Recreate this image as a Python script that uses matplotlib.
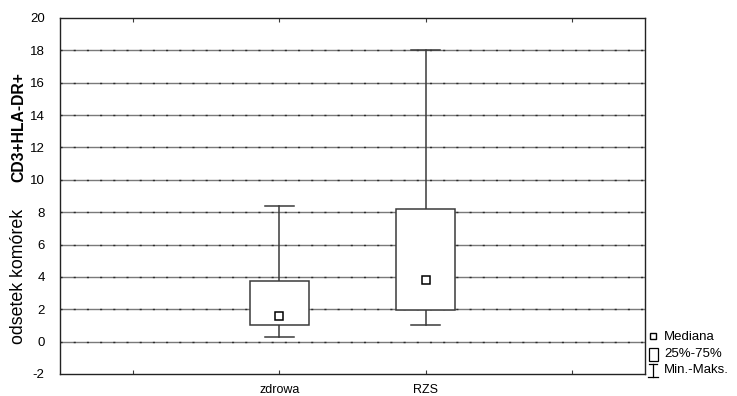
import matplotlib
matplotlib.use("Agg")
import matplotlib.pyplot as plt
from matplotlib.patches import Rectangle
from matplotlib.lines import Line2D

plt.rcParams['font.family'] = ['Liberation Sans', 'DejaVu Sans']

# ---------- data ----------
groups = ['zdrowa', 'RZS']
minimum = [0.3, 1.05]
q1 = [1.0, 1.95]
median = [1.6, 3.8]
q3 = [3.73, 8.2]
maximum = [8.4, 18.05]

yticks = list(range(-2, 21, 2))
xticks = [0.5, 1.5, 2.5, 3.5]
xlabels = ['', 'zdrowa', 'RZS', '']

line_c = '#3a3a3a'

fig = plt.figure(figsize=(7.37, 3.96), dpi=100)
ax = fig.add_axes([60 / 737, 22 / 396, 585 / 737, 356 / 396])

ax.set_xlim(0, 4)
ax.set_ylim(-2, 20)

# horizontal grid: grey line with darker dots
for y in yticks[1:-1]:
    ax.axhline(y, color='#7a7a7a', lw=1.0, zorder=1)
    ax.axhline(y, color='#2a2a2a', lw=1.0, ls=(0, (1.5, 8)), zorder=1)

box_w = 0.4
cap_w = 0.2
for i, g in enumerate(groups):
    x = xticks[i + 1]
    # whiskers
    ax.plot([x, x], [q3[i], maximum[i]], color=line_c, lw=1.1, zorder=2)
    ax.plot([x, x], [minimum[i], q1[i]], color=line_c, lw=1.1, zorder=2)
    ax.plot([x - cap_w / 2, x + cap_w / 2], [maximum[i]] * 2, color=line_c, lw=1.1, zorder=2)
    ax.plot([x - cap_w / 2, x + cap_w / 2], [minimum[i]] * 2, color=line_c, lw=1.1, zorder=2)
    # box
    ax.add_patch(Rectangle((x - box_w / 2, q1[i]), box_w, q3[i] - q1[i],
                           facecolor='white', edgecolor=line_c, lw=1.1, zorder=3))
    # median
    ax.plot(x, median[i], marker='s', ms=6, mfc='white', mec='black', mew=1.1, zorder=4)

ax.set_yticks(yticks)
ax.set_yticklabels([str(v) for v in yticks], fontsize=9.5)
ax.set_xticks(xticks)
ax.set_xticklabels(xlabels, fontsize=9)
ax.tick_params(axis='both', direction='in', length=3, width=0.8, color=line_c,
               top=True, right=False, left=False)
ax.tick_params(axis='y', length=0, pad=11)
ax.tick_params(axis='x', pad=7)
for s in ax.spines.values():
    s.set_color('#222222')
    s.set_linewidth(1.0)

# y axis label: normal + bold part
fig.text(19 / 737, 1 - 344 / 396, 'odsetek komórek', rotation=90, fontsize=12.8,
         ha='center', va='bottom')
fig.text(19 / 737, 1 - 182 / 396, 'CD3+HLA-DR+', rotation=90, fontsize=11.3,
         fontweight='bold', ha='center', va='bottom')

# legend
def fx(px):
    return px / 737

def fy(py):
    return 1 - py / 396

fig.add_artist(Line2D([fx(653)], [fy(336)], marker='s', ms=5, mfc='white',
                      mec='black', mew=1.0, transform=fig.transFigure))
fig.add_artist(Rectangle((fx(649), fy(361)), fx(9), 13 / 396, facecolor='white',
                         edgecolor='black', lw=0.9, transform=fig.transFigure))
fig.add_artist(Line2D([fx(653), fx(653)], [fy(364), fy(377)], color='black', lw=0.9,
                      transform=fig.transFigure))
fig.add_artist(Line2D([fx(649), fx(657)], [fy(364), fy(364)], color='black', lw=0.9,
                      transform=fig.transFigure))
fig.add_artist(Line2D([fx(648), fx(658)], [fy(377), fy(377)], color='black', lw=0.9,
                      transform=fig.transFigure))
fig.text(fx(664), fy(337), 'Mediana', fontsize=9.5, va='center')
fig.text(fx(664), fy(354), '25%-75%', fontsize=9.5, va='center')
fig.text(fx(664), fy(370), 'Min.-Maks.', fontsize=9.5, va='center')

fig.savefig('out.png', dpi=100)
